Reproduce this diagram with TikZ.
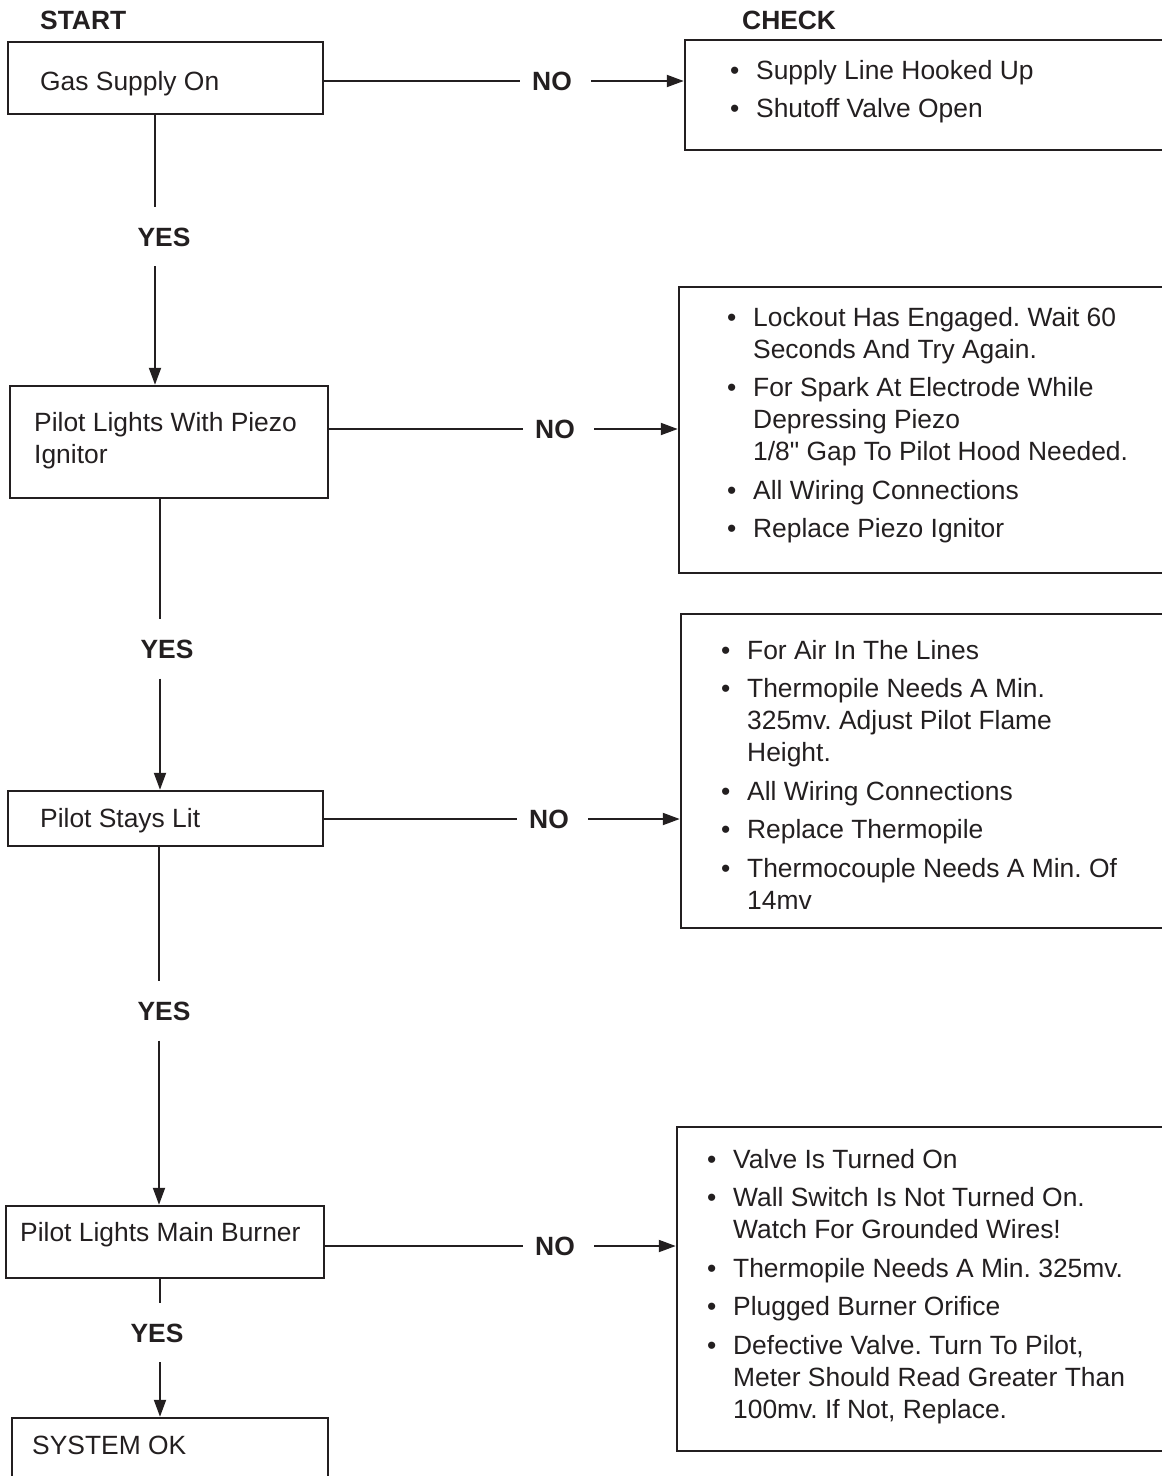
\documentclass[tikz,border=0pt]{standalone}
\usepackage{fontspec}
\setmainfont{Liberation Sans}[Ligatures=TeXOff]
\usetikzlibrary{arrows.meta}
\definecolor{ink}{RGB}{35,31,32}
\frenchspacing
\newcommand{\tlines}[1]{\begin{tabular}[t]{@{}l@{}}#1\end{tabular}}
\newcommand{\itm}[1]{\makebox[26pt][l]{\textbullet}#1}
\newcommand{\cnt}[1]{\hspace*{26pt}#1}
\begin{document}
\begin{tikzpicture}[x=1pt,y=-1pt,
  txt/.style={inner sep=0pt, anchor=base west, text=ink, font=\fontsize{26.4pt}{32pt}\selectfont\frenchspacing},
  lbl/.style={inner xsep=0pt, text=ink, font=\fontsize{26.4pt}{32pt}\selectfont\bfseries},
  yeslbl/.style={lbl, text height=19pt, text depth=0pt, inner ysep=20pt},
  box/.style={draw=ink, line width=2.5pt, rectangle, inner sep=0pt},
  conn/.style={draw=ink, line width=2pt},
  arr/.style={conn, -{Triangle[length=17pt,width=12pt]}}]
\useasboundingbox (0,0) rectangle (1162,1476);

% boxes
\node[box, minimum width=315pt, minimum height=72pt]  (b1) at (165.5,78) {};
\node[box, minimum width=495pt, minimum height=110pt] (c1) at (932.5,95) {};
\node[box, minimum width=318pt, minimum height=112pt] (b2) at (169,442) {};
\node[box, minimum width=501pt, minimum height=286pt] (c2) at (929.5,430) {};
\node[box, minimum width=315pt, minimum height=55pt]  (b3) at (165.5,818.5) {};
\node[box, minimum width=499pt, minimum height=314pt] (c3) at (930.5,771) {};
\node[box, minimum width=318pt, minimum height=72pt]  (b4) at (165,1242) {};
\node[box, minimum width=503pt, minimum height=324pt] (c4) at (928.5,1289) {};
\node[box, minimum width=316pt, minimum height=82pt]  (b5) at (170,1459) {};

% headings
\node[txt, font=\fontsize{26.4pt}{32pt}\selectfont\bfseries] (start) at (40,29) {START};
\node[txt, font=\fontsize{26.4pt}{32pt}\selectfont\bfseries] (check) at (742,29) {CHECK};

% left texts
\node[txt] (t1) at (40,90) {Gas Supply On};
\node[txt] (t2) at (34,431) {\tlines{Pilot Lights With Piezo\\Ignitor}};
\node[txt] (t3) at (40,827) {Pilot Stays Lit};
\node[txt] (t4) at (20,1241) {Pilot Lights Main Burner};
\node[txt] (t5) at (32,1454) {SYSTEM OK};

% right lists
\node[txt] (l1) at (730,79) {\tlines{\itm{Supply Line Hooked Up}\\[6pt]
  \itm{Shutoff Valve Open}}};
\node[txt] (l2) at (727,326) {\tlines{\itm{Lockout Has Engaged. Wait 60}\\
  \cnt{Seconds And Try Again.}\\[6.5pt]
  \itm{For Spark At Electrode While}\\
  \cnt{Depressing Piezo}\\
  \cnt{1/8" Gap To Pilot Hood Needed.}\\[6.5pt]
  \itm{All Wiring Connections}\\[6.5pt]
  \itm{Replace Piezo Ignitor}}};
\node[txt] (l3) at (721,659) {\tlines{\itm{For Air In The Lines}\\[6.5pt]
  \itm{Thermopile Needs A Min.}\\
  \cnt{325mv. Adjust Pilot Flame}\\
  \cnt{Height.}\\[6.5pt]
  \itm{All Wiring Connections}\\[6.5pt]
  \itm{Replace Thermopile}\\[6.5pt]
  \itm{Thermocouple Needs A Min. Of}\\
  \cnt{14mv}}};
\node[txt] (l4) at (707,1168) {\tlines{\itm{Valve Is Turned On}\\[6.5pt]
  \itm{Wall Switch Is Not Turned On.}\\
  \cnt{Watch For Grounded Wires!}\\[6.5pt]
  \itm{Thermopile Needs A Min. 325mv.}\\[6.5pt]
  \itm{Plugged Burner Orifice}\\[6.5pt]
  \itm{Defective Valve. Turn To Pilot,}\\
  \cnt{Meter Should Read Greater Than}\\
  \cnt{100mv. If Not, Replace.}}};

% NO labels and horizontal connectors
\node[lbl] (no1) at (552,81) {NO};
\node[lbl] (no2) at (555,429) {NO};
\node[lbl] (no3) at (549,819) {NO};
\node[lbl] (no4) at (555,1246) {NO};
\foreach \b/\n/\c in {b1/no1/c1, b2/no2/c2, b3/no3/c3, b4/no4/c4}{
  \draw[conn] (\b.east |- \n) -- ([xshift=-12.5pt]\n.west);
  \draw[arr] ([xshift=19pt]\n.east) -- (\c.west |- \n);
}

% YES labels and vertical connectors
\coordinate (x1) at (155,0);
\coordinate (x2) at (160,0);
\coordinate (x3) at (159,0);
\coordinate (x4) at (160,0);
\node[yeslbl] (y1) at (164,236.5) {YES};
\node[yeslbl] (y2) at (167,649) {YES};
\node[yeslbl] (y3) at (164,1011) {YES};
\node[yeslbl] (y4) at (157,1332.5) {YES};
\foreach \a/\y/\b/\x in {b1/y1/b2/x1, b2/y2/b3/x2, b3/y3/b4/x3, b4/y4/b5/x4}{
  \draw[conn] (\a.south -| \x) -- (\y.north -| \x);
  \draw[arr] (\y.south -| \x) -- (\b.north -| \x);
}
\end{tikzpicture}
\end{document}
